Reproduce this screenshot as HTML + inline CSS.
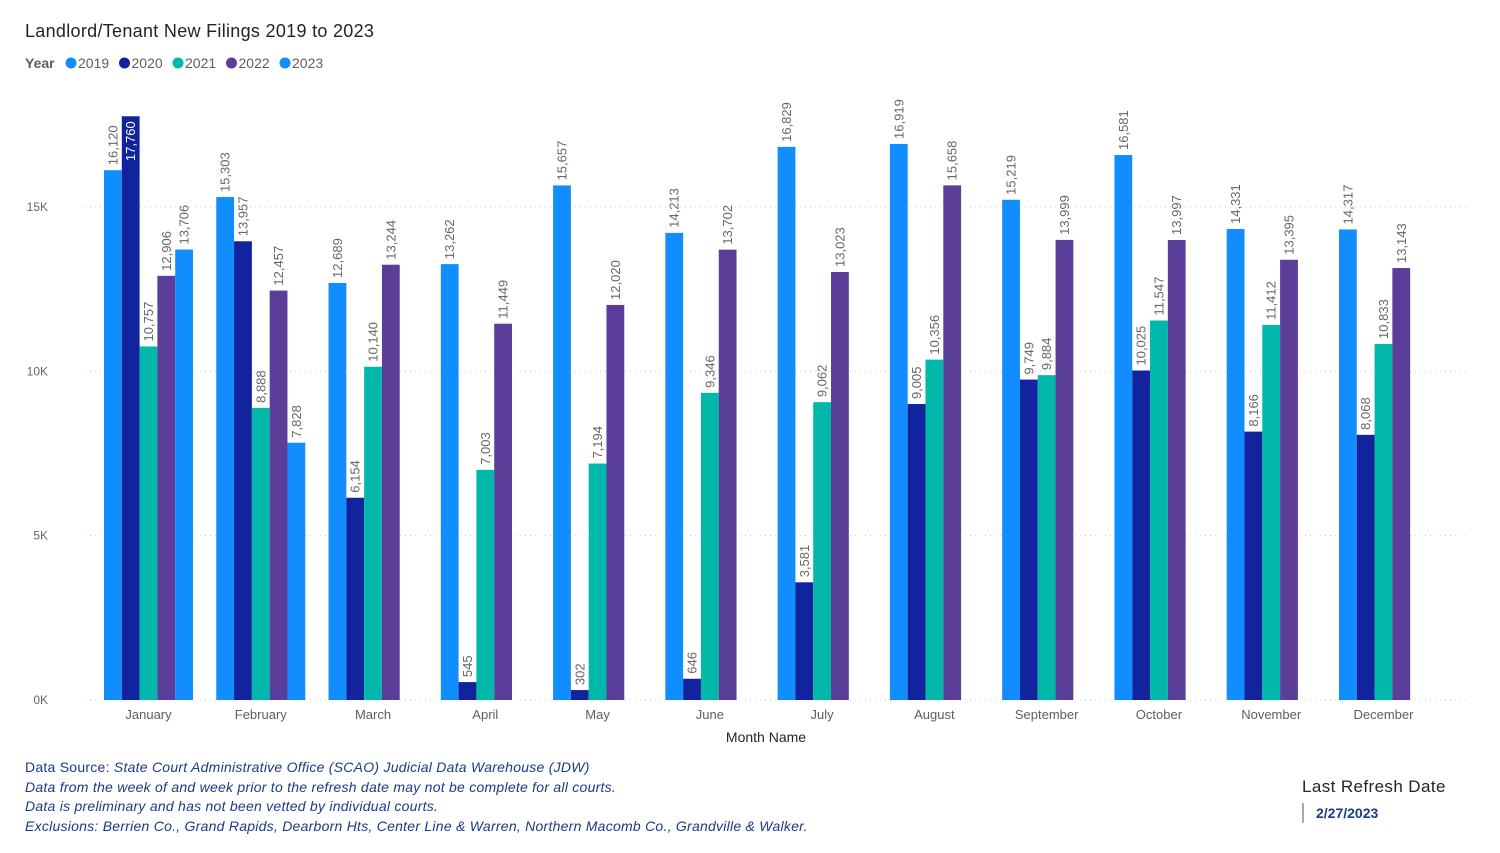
<!DOCTYPE html>
<html><head><meta charset="utf-8"><style>
body{margin:0;background:#fff;font-family:"Liberation Sans",sans-serif;}
#wrap{position:relative;width:1500px;height:853px;overflow:hidden;}
.foot{position:absolute;left:25px;top:758px;font-size:14px;line-height:19.6px;color:#1A3A8A;letter-spacing:0.25px;}
.foot i{font-style:italic;}
</style></head><body>
<div id="wrap">
<svg id="chart" width="1500" height="853" style="position:absolute;left:0;top:0">
<text x="25" y="37" font-size="18" fill="#252423" letter-spacing="0.3">Landlord/Tenant New Filings 2019 to 2023</text>
<g id="legend"></g>
<g id="grid"></g><g id="bars"></g><g id="labels"></g>
<text x="766" y="742" font-size="14" text-anchor="middle" fill="#252423">Month Name</text>
</svg>
<div class="foot">Data Source: <i>State Court Administrative Office (SCAO) Judicial Data Warehouse (JDW)</i><br><i>Data from the week of and week prior to the refresh date may not be complete for all courts.</i><br><i>Data is preliminary and has not been vetted by individual courts.</i><br><i>Exclusions: Berrien Co., Grand Rapids, Dearborn Hts, Center Line &amp; Warren, Northern Macomb Co., Grandville &amp; Walker.</i></div>
<div style="position:absolute;left:1302px;top:777px;font-size:17px;color:#252423;letter-spacing:0.4px">Last Refresh Date</div>
<div style="position:absolute;left:1302px;top:803px;height:20px;border-left:2px solid #aaa;padding-left:12px;font-size:14px;font-weight:bold;color:#1A3A8A;line-height:20px">2/27/2023</div>
</div>
<script>
const months=["January","February","March","April","May","June","July","August","September","October","November","December"];
const years=["2019","2020","2021","2022","2023"];
const v2019=[16120,15303,12689,13262,15657,14213,16829,16919,15219,16581,14331,14317];
const v2020=[17760,13957,6154,545,302,646,3581,9005,9749,10025,8166,8068];
const v2021=[10757,8888,10140,7003,7194,9346,9062,10356,9884,11547,11412,10833];
const v2022=[12906,12457,13244,11449,12020,13702,13023,15658,13999,13997,13395,13143];
const v2023=[13706,7828,null,null,null,null,null,null,null,null,null,null];
const yTicks=[0,5000,10000,15000];
const yTickLabels=["0K","5K","10K","15K"];
const series=[v2019,v2020,v2021,v2022,v2023];
const colors=["#118DFF","#12239E","#01B8AA","#5B3E9A","#118DFF"];
const NS="http://www.w3.org/2000/svg";
const y0=700,yPer=493/15000,x0=148.5,step=112.27,bw=17.8;
const yS=v=>y0-v*yPer;
const xS=(m,s)=>x0+(s-2.5)*bw+m*step;
function mk(tag,attrs,parent){const e=document.createElementNS(NS,tag);for(const k in attrs)e.setAttribute(k,attrs[k]);parent.appendChild(e);return e;}
const grid=document.getElementById('grid'),bars=document.getElementById('bars'),labels=document.getElementById('labels'),legend=document.getElementById('legend');
yTicks.forEach((t,i)=>{
 const l=mk('line',{x1:85,x2:1470,y1:yS(t),y2:yS(t),stroke:"#ccc","stroke-dasharray":"1,4"},grid);
 
 
 const tx=mk('text',{x:48,y:yS(t)+4,"font-size":12,"text-anchor":"end",fill:"#666"},grid);
 tx.textContent=yTickLabels[i];
 
 
});
let lx=25;
const lt=mk('text',{x:lx,y:68,"font-size":14,"font-weight":"bold",fill:"#605E5C"},legend);lt.textContent="Year";
lx=65;
years.forEach((yr,i)=>{
 const c=mk('circle',{cx:lx+6,cy:63,r:5.5,fill:colors[i]},legend);
 
 
 const t=mk('text',{x:lx+13,y:68,"font-size":14,fill:"#605E5C"},legend);t.textContent=yr;
 
 
 lx+=53.5;
});
months.forEach((m,mi)=>{
 const t=mk('text',{x:x0+mi*step,y:719,"font-size":13,"text-anchor":"middle",fill:"#605E5C"},grid);
 t.textContent=m;
 
 
 series.forEach((s,si)=>{
  const v=s[mi];if(v==null)return;
  const x=xS(mi,si),yt=yS(v);
  const r=mk('rect',{x:x,y:yt,width:bw,height:y0-yt,fill:colors[si]},bars);
  
  
  const inside=yt<125;
  const cx=x+bw/2+4.5,ly=inside?yt+5:yt-5;
  const lab=mk('text',{x:cx,y:ly,"font-size":13,"text-anchor":inside?"end":"start",fill:inside?"#fff":"#666",transform:`rotate(-90 ${cx} ${ly})`},labels);
  lab.textContent=v.toLocaleString('en-US');
  
  
 });
});
</script>
</body></html>
